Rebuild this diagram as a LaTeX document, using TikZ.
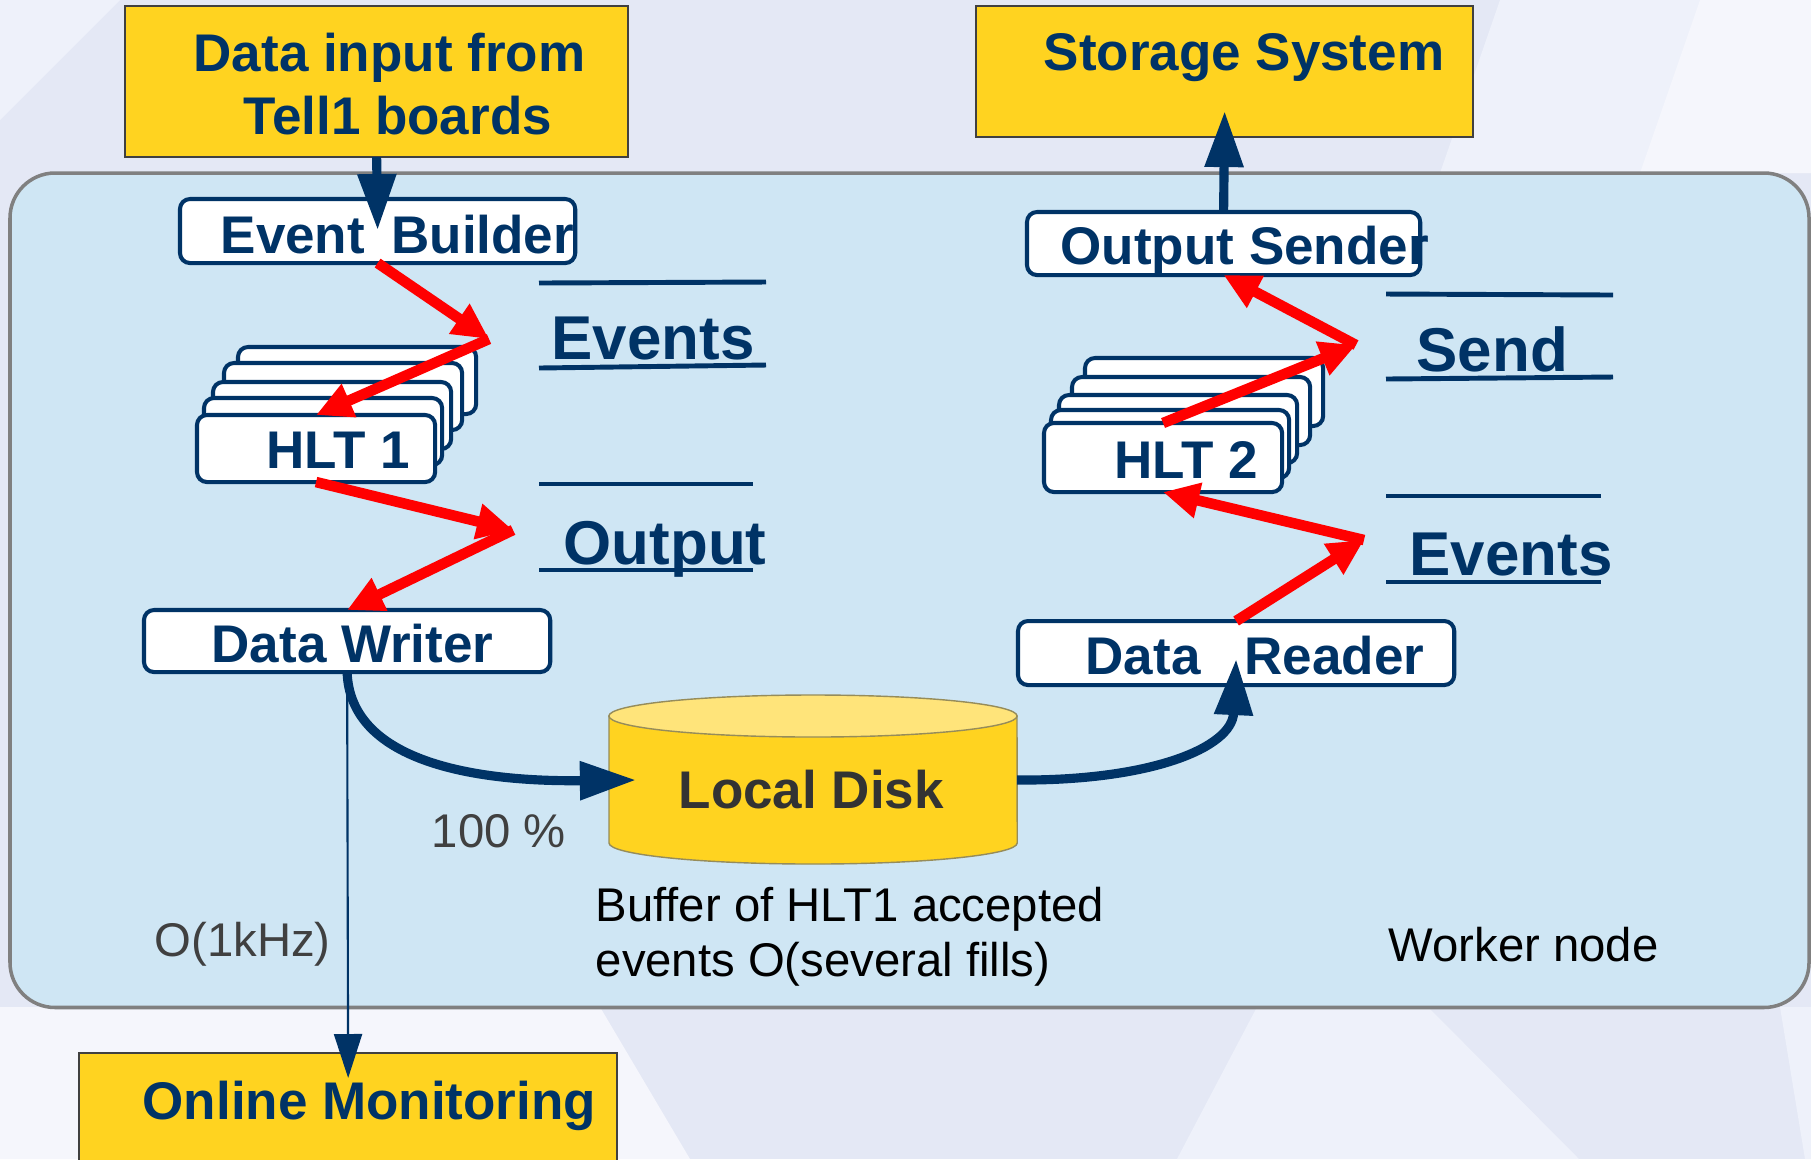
\documentclass[tikz,border=0pt]{standalone}
\usepackage{fontspec}
\setmainfont{Liberation Sans}
\usetikzlibrary{arrows.meta}
\definecolor{navy}{RGB}{0,51,102}
\definecolor{gold}{RGB}{255,211,32}
\definecolor{goldtop}{RGB}{255,228,122}
\definecolor{panelblue}{RGB}{207,230,244}
\definecolor{panelrim}{RGB}{128,128,128}
\definecolor{bgbase}{RGB}{228,232,245}
\definecolor{bglight}{RGB}{238,241,250}
\definecolor{bgpale}{RGB}{245,246,252}
\definecolor{diskink}{RGB}{51,51,51}
\definecolor{noteink}{RGB}{64,64,64}
\definecolor{diskrim}{RGB}{150,140,90}
\begin{document}
\begin{tikzpicture}[x=0.01cm, y=-0.01cm,
  box/.style={draw=navy, line width=1.15pt, fill=white, rounded corners=0.1cm,
    inner sep=0pt, outer sep=0pt, anchor=north west},
  ybox/.style={draw=black!75, line width=0.5pt, fill=gold,
    inner sep=0pt, outer sep=0pt, anchor=north west},
  hltbox/.style={box, minimum width=2.38cm, minimum height=0.67cm},
  boxtext/.style={font=\fontsize{15.07}{18}\selectfont\bfseries, text=navy,
    inner sep=0pt, anchor=base west},
  headtext/.style={font=\fontsize{17.6}{21}\selectfont\bfseries, text=navy,
    inner sep=0pt, anchor=base west},
  notetext/.style={font=\fontsize{13.45}{16}\selectfont, text=black,
    inner sep=0pt, anchor=base west},
  flow/.style={draw=red, line width=3pt, -{Triangle[length=0.36cm,width=0.34cm]}},
  feed/.style={draw=navy, line width=2.6pt, -{Triangle[length=0.56cm,width=0.37cm]}},
  tap/.style={draw=navy, line width=0.6pt, -{Triangle[length=0.44cm,width=0.28cm]}},
  ruleline/.style={draw=navy, line width=1.4pt}]
\useasboundingbox (0,0) rectangle (1811,1159);

% backdrop
\fill[bgbase] (0,0) rectangle (1811,1159);
\fill[bglight] (1500,0) -- (1811,0) -- (1811,173) -- (1440,173) -- cycle;
\fill[bgpale] (1700,0) -- (1811,0) -- (1811,173) -- (1640,173) -- cycle;
\fill[bglight] (0,0) -- (120,0) -- (0,120) -- cycle;
\fill[bgpale] (0,1007) -- (600,1007) -- (690,1159) -- (0,1159) -- cycle;
\fill[bglight] (1257,1007) -- (1428,1007) -- (1579,1159) -- (1177,1159) -- cycle;
\fill[bglight] (1780,1007) -- (1811,1007) -- (1811,1159) -- (1805,1159) -- cycle;

% worker node panel
\node[draw=panelrim, line width=1pt, fill=panelblue, rounded corners=0.45cm,
  minimum width=17.98cm, minimum height=8.34cm, inner sep=0pt, outer sep=0pt,
  anchor=north west] (worker) at (10,173) {};

% external systems
\node[ybox, minimum width=5.03cm, minimum height=1.51cm] (din) at (125,6) {};
\node[ybox, minimum width=4.97cm, minimum height=1.31cm] (st) at (976,6) {};
\node[ybox, minimum width=5.38cm, minimum height=1.2cm] (om) at (79,1053) {};

% processes
\node[box, minimum width=3.95cm, minimum height=0.64cm] (eb) at (180,199) {};
\node[box, minimum width=3.93cm, minimum height=0.63cm] (os) at (1027,212) {};
\node[box, minimum width=4.06cm, minimum height=0.62cm] (dw) at (144,610) {};
\node[box, minimum width=4.36cm, minimum height=0.64cm] (dr) at (1018,621) {};

% HLT1 farm
\node[hltbox] (h1e) at (238,347) {};
\node[hltbox] (h1d) at (224,363) {};
\node[hltbox] (h1c) at (213,382) {};
\node[hltbox] (h1b) at (204,398) {};
\node[hltbox] (h1)  at (197,415) {};

% HLT2 farm
\node[hltbox, minimum height=0.68cm] (h2e) at (1085,358) {};
\node[hltbox, minimum height=0.68cm] (h2d) at (1072,377) {};
\node[hltbox, minimum height=0.68cm] (h2c) at (1059,395) {};
\node[hltbox, minimum height=0.68cm] (h2b) at (1051,410) {};
\node[hltbox, minimum height=0.69cm] (h2)  at (1044,423) {};

% local disk cylinder
\fill[gold] (609,716) rectangle (1017,843);
\fill[gold] (813,843) ellipse [x radius=2.04cm, y radius=0.21cm];
\draw[diskrim, line width=0.4pt] (609,716) -- (609,843)
  arc [start angle=180, end angle=360, x radius=2.04cm, y radius=0.21cm] -- (1017,716);
\filldraw[fill=goldtop, draw=diskrim, line width=0.4pt] (813,716) ellipse [x radius=2.04cm, y radius=0.21cm];
\node[inner sep=0pt, outer sep=0pt, minimum width=4.08cm, minimum height=1.69cm] (disk) at (813,780) {};

% stage captions
\draw[ruleline] (539,283) -- (766,282);
\draw[ruleline] (539,368) -- (766,365);
\draw[ruleline] (539,484) -- (753,484);
\draw[ruleline] (539,570) -- (753,570);
\draw[ruleline] (1386,294) -- (1613,295);
\draw[ruleline] (1386,379) -- (1613,377);
\draw[ruleline] (1386,496) -- (1601,496);
\draw[ruleline] (1386,582) -- (1601,582);

% labels
\node[boxtext] (tdin1) at (193,71) {Data input from};
\node[boxtext] (tdin2) at (243,134) {Tell1 boards};
\node[boxtext] (tst) at (1043,70) {Storage System};
\node[boxtext] (teb) at (220,253) {Event\hspace{0.5em}Builder};
\node[boxtext] (tos) at (1060,264) {Output Sender};
\node[boxtext] (th1) at (266,468) {HLT 1};
\node[boxtext] (th2) at (1114,478) {HLT 2};
\node[boxtext] (tdw) at (211,662) {Data Writer};
\node[boxtext] (tdr1) at (1085,674) {Data};
\node[boxtext] (tdr2) at (1244,674) {Reader};
\node[boxtext, text=diskink] (tdisk) at (678,808) {Local Disk};
\node[boxtext] (tom) at (142,1119) {Online Monitoring};
\node[headtext] (tev1) at (551,359) {Events};
\node[headtext] (tout) at (563,564) {Output};
\node[headtext] (tsend) at (1416,371) {Send};
\node[headtext] (tev2) at (1409,575) {Events};
\node[notetext, text=noteink] (tpct) at (431,847) {100 \%};
\node[notetext, text=noteink] (trate) at (154,956) {O(1kHz)};
\node[notetext] (tbuf1) at (595,921) {Buffer of HLT1 accepted};
\node[notetext] (tbuf2) at (595,976) {events O(several fills)};
\node[notetext] (twn) at (1388,961) {Worker node};

% event flow
\coordinate (evL) at (489,339);
\coordinate (outL) at (513,530);
\coordinate (sendR) at (1356,345);
\coordinate (evR) at (1364,540);
\draw[flow] (eb.south) -- (evL);
\draw[flow] (evL) -- (h1.north);
\draw[flow] (h1.south) -- (outL);
\draw[flow] (outL) -- (dw.north);
\draw[flow] (dr.north) -- (evR);
\draw[flow] (evR) -- (h2.south);
\draw[flow] (h2.north) -- (sendR);
\draw[flow] (sendR) -- (os.south);

% data paths
\draw[feed] (din.south) -- ([yshift=-0.31cm]eb.north);
\draw[feed] (os.north) -- ([yshift=0.26cm]st.south);
\draw[feed] (dw.south) .. controls (350,760) and (470,782) .. ([xshift=0.27cm]disk.west);
\draw[feed] (disk.east) .. controls (1150,781) and (1232,748) .. ([yshift=0.26cm]dr.south);
\draw[tap] (dw.south) -- ([yshift=-0.25cm]om.north);
\end{tikzpicture}
\end{document}
